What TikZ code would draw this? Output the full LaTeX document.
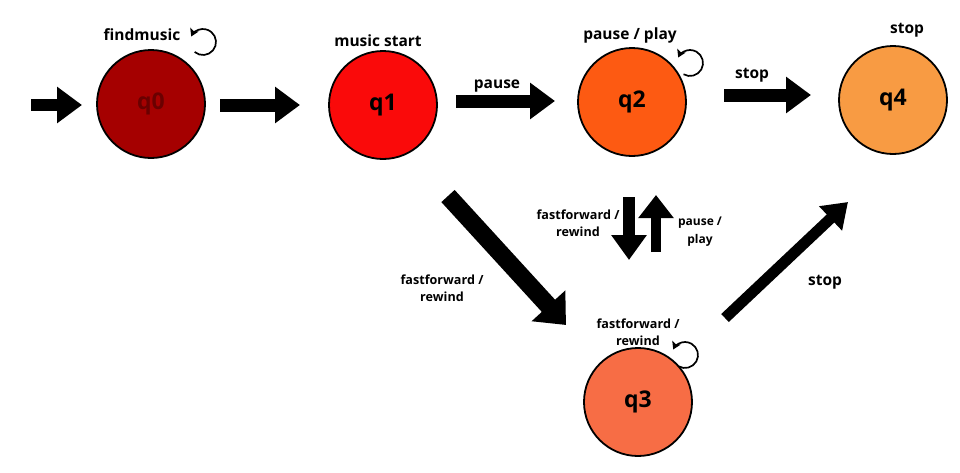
\documentclass[tikz,border=0pt]{standalone}
\usepackage{fontspec}
\setmainfont{Open Sans}
\usetikzlibrary{arrows.meta,calc}
\definecolor{qzero}{HTML}{A50000}
\definecolor{qzerotext}{HTML}{6A0000}
\definecolor{qone}{HTML}{FA0A0A}
\definecolor{qtwo}{HTML}{FD5A12}
\definecolor{qthree}{HTML}{F76D45}
\definecolor{qfour}{HTML}{F89B43}
\begin{document}
\begin{tikzpicture}[x=1pt,y=-1pt,
  state/.style={circle,draw=black,line width=1.8pt,minimum size=108pt,inner sep=0pt,
    font=\bfseries\fontsize{23}{26}\selectfont},
  lbl/.style={font=\bfseries\fontsize{12.6}{17}\selectfont,align=center,inner sep=0pt},
  toplbl/.style={lbl,font=\bfseries\fontsize{15.5}{18}\selectfont},
  bigtip/.style={-{Triangle[length=25pt,width=35pt]}},
  looparrow/.style={line width=1.7pt,-{Stealth[length=7.5pt,width=9pt,inset=1.5pt]}}
]
\fill[white] (0,0) rectangle (960,472);
\useasboundingbox (0,0) rectangle (960,472);

% states
\node[state,fill=qzero,text=qzerotext] (q0) at (151,104) {q0};
\node[state,fill=qone] (q1) at (383,105) {q1};
\node[state,fill=qtwo] (q2) at (632,102) {q2};
\node[state,fill=qfour] (q4) at (893,100) {q4};
\node[state,fill=qthree] (q3) at (638,402) {q3};

% arrow end points
\coordinate (i0) at (31,105);   \coordinate (i1) at (82,105);
\coordinate (a0) at (220,105);  \coordinate (a1) at (300,105);
\coordinate (b0) at (456,101);  \coordinate (b1) at (555,101);
\coordinate (c0) at (724,95);   \coordinate (c1) at (811,95);
\coordinate (d0) at (448,196);  \coordinate (d1) at (566,325);
\coordinate (e0) at (629,197);  \coordinate (e1) at (629,260);
\coordinate (f0) at (656,252);  \coordinate (f1) at (656,195);
\coordinate (g0) at (725,318);  \coordinate (g1) at (848,202);

\draw[bigtip,line width=12pt] (i0) -- (i1);
\draw[bigtip,line width=13pt] (a0) -- (a1);
\draw[bigtip,line width=13pt] (b0) -- (b1);
\draw[bigtip,line width=13pt] (c0) -- (c1);
\draw[-{Triangle[length=26pt,width=44pt]},line width=18pt] (d0) -- (d1);
\draw[-{Triangle[length=25pt,width=34pt]},line width=12pt] (e0) -- (e1);
\draw[-{Triangle[length=23pt,width=34pt]},line width=10pt] (f0) -- (f1);
\draw[-{Triangle[length=24pt,width=32pt]},line width=11pt] (g0) -- (g1);

% self loops
\coordinate (l0) at (203,42);
\coordinate (l2) at (690,63);
\coordinate (l3) at (685,355);
\draw[looparrow] ($(l0)+(130:13)$) arc[start angle=130,end angle=-155,radius=13];
\draw[looparrow] ($(l2)+(120:13)$) arc[start angle=120,end angle=-155,radius=13];
\draw[looparrow] ($(l3)+(120:13)$) arc[start angle=120,end angle=-155,radius=13];

% labels
\node[toplbl] (t0) at (142,35) {findmusic};
\node[toplbl] (t1) at (378,41) {music start};
\node[toplbl] (t2) at (497,86) {pause};
\node[toplbl] (t3) at (630,35) {pause / play};
\node[toplbl] (t4) at (752,75) {stop};
\node[toplbl] (t5) at (907,30) {stop};
\node[lbl] (t6) at (442,288) {fastforward /\\rewind};
\node[lbl] (t7) at (578,223) {fastforward /\\rewind};
\node[lbl,font=\bfseries\fontsize{12}{18}\selectfont] (t8) at (700,232) {pause /\\play};
\node[toplbl] (t9) at (825,282) {stop};
\node[lbl] (t10) at (638,332) {fastforward /\\rewind};
\end{tikzpicture}
\end{document}
